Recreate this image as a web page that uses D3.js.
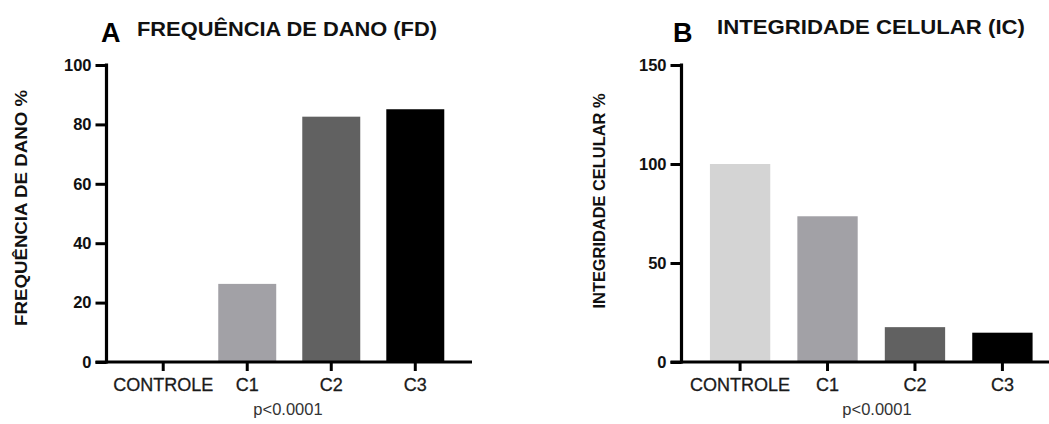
<!DOCTYPE html>
<html>
<head>
<meta charset="utf-8">
<script src="https://cdn.jsdelivr.net/npm/d3@7"></script>
<style>
  body { margin: 0; background: #fff; }
  svg { display: block; font-family: Arial, "Liberation Sans", sans-serif; }
</style>
</head>
<body>
<div id="chart"></div>
<script>
// categorias e valores
const categories = ["CONTROLE", "C1", "C2", "C3"];
const damageFreq = [0, 26.3, 82.6, 85.1];
const cellIntegrity = [100, 73.6, 17.6, 14.8];
const barColors = ["#d4d4d4", "#a2a1a6", "#616161", "#000000"];
const ticksA = [0, 20, 40, 60, 80, 100];
const ticksB = [0, 50, 100, 150];

const width = 1049, height = 424;

const svg = d3.select("#chart").append("svg")
  .attr("width", width)
  .attr("height", height);

svg.append("rect").attr("width", width).attr("height", height).attr("fill", "#fff");

function drawPanel(opt) {
  const g = svg.append("g");

  const x = d3.scaleBand()
    .domain(categories)
    .range(opt.xRange)
    .paddingInner(0.31)
    .paddingOuter(opt.padOuter);

  const y = d3.scaleLinear()
    .domain([0, opt.yMax])
    .range([362, 65]);

  // barras
  g.selectAll("rect.bar")
    .data(opt.values)
    .enter()
    .append("rect")
    .attr("class", "bar")
    .attr("x", (d, i) => x(categories[i]))
    .attr("width", x.bandwidth())
    .attr("y", d => y(d))
    .attr("height", d => y(0) - y(d))
    .attr("fill", (d, i) => barColors[i]);

  // eixo y
  const yAxis = g.append("g")
    .attr("transform", `translate(${opt.xRange[0]},0)`)
    .call(d3.axisLeft(y).tickValues(opt.ticks).tickSize(11).tickPadding(4).tickSizeOuter(0));
  yAxis.select(".domain").attr("stroke", "#000").attr("stroke-width", 3.2)
    .attr("d", `M0,${y(0) + 1.5}V${y(opt.yMax) - 1.5}`);
  yAxis.selectAll(".tick line").attr("stroke", "#000").attr("stroke-width", 3);
  yAxis.selectAll(".tick text")
    .attr("font-size", "16.5px")
    .attr("font-weight", "bold")
    .attr("fill", "#111");

  // eixo x
  const xAxis = g.append("g")
    .attr("transform", `translate(0,${y(0)})`)
    .call(d3.axisBottom(x).tickSize(9).tickPadding(7).tickSizeOuter(0));
  xAxis.select(".domain").attr("stroke", "#000").attr("stroke-width", 3.2)
    .attr("d", `M${opt.xRange[0] - 11},0H${opt.xRange[1]}`);
  xAxis.selectAll(".tick line").attr("stroke", "#000").attr("stroke-width", 3);
  xAxis.selectAll(".tick text")
    .attr("font-size", "18px")
    .attr("fill", "#1a1a1a")
    .attr("stroke", "#1a1a1a")
    .attr("stroke-width", 0.3);

  // p-valor
  g.append("text")
    .attr("x", opt.pX)
    .attr("y", 415)
    .attr("text-anchor", "middle")
    .attr("font-size", "16.5px")
    .attr("fill", "#333")
    .text("p<0.0001");

  // título do eixo y
  g.append("text")
    .attr("transform", `translate(${opt.yTitleX},${opt.yTitleY}) rotate(-90)`)
    .attr("text-anchor", "middle")
    .attr("font-size", "16.5px")
    .attr("font-weight", "bold")
    .attr("fill", "#111")
    .attr("textLength", opt.yTitleLen)
    .attr("lengthAdjust", "spacingAndGlyphs")
    .text(opt.yTitle);

  // letra do painel
  g.append("text")
    .attr("x", opt.letterX)
    .attr("y", opt.letterY)
    .attr("font-size", "27px")
    .attr("font-weight", "bold")
    .attr("fill", "#000")
    .text(opt.letter);

  // título
  g.append("text")
    .attr("x", opt.titleX)
    .attr("y", opt.titleY)
    .attr("font-size", "20px")
    .attr("font-weight", "bold")
    .attr("fill", "#111")
    .attr("textLength", opt.titleLen)
    .attr("lengthAdjust", "spacingAndGlyphs")
    .text(opt.title);
}

drawPanel({
  values: damageFreq, yMax: 100, ticks: ticksA,
  xRange: [106.5, 472], padOuter: 0.33,
  pX: 288,
  yTitle: "FREQUÊNCIA DE DANO %", yTitleX: 27, yTitleY: 208, yTitleLen: 236,
  letter: "A", letterX: 101, letterY: 42,
  title: "FREQUÊNCIA DE DANO (FD)", titleX: 137, titleY: 36, titleLen: 300
});

drawPanel({
  values: cellIntegrity, yMax: 150, ticks: ticksB,
  xRange: [681.5, 1061], padOuter: 0.325,
  pX: 877,
  yTitle: "INTEGRIDADE CELULAR %", yTitleX: 605, yTitleY: 201, yTitleLen: 215,
  letter: "B", letterX: 673, letterY: 42,
  title: "INTEGRIDADE CELULAR (IC)", titleX: 717, titleY: 34, titleLen: 308
});
</script>
</body>
</html>
